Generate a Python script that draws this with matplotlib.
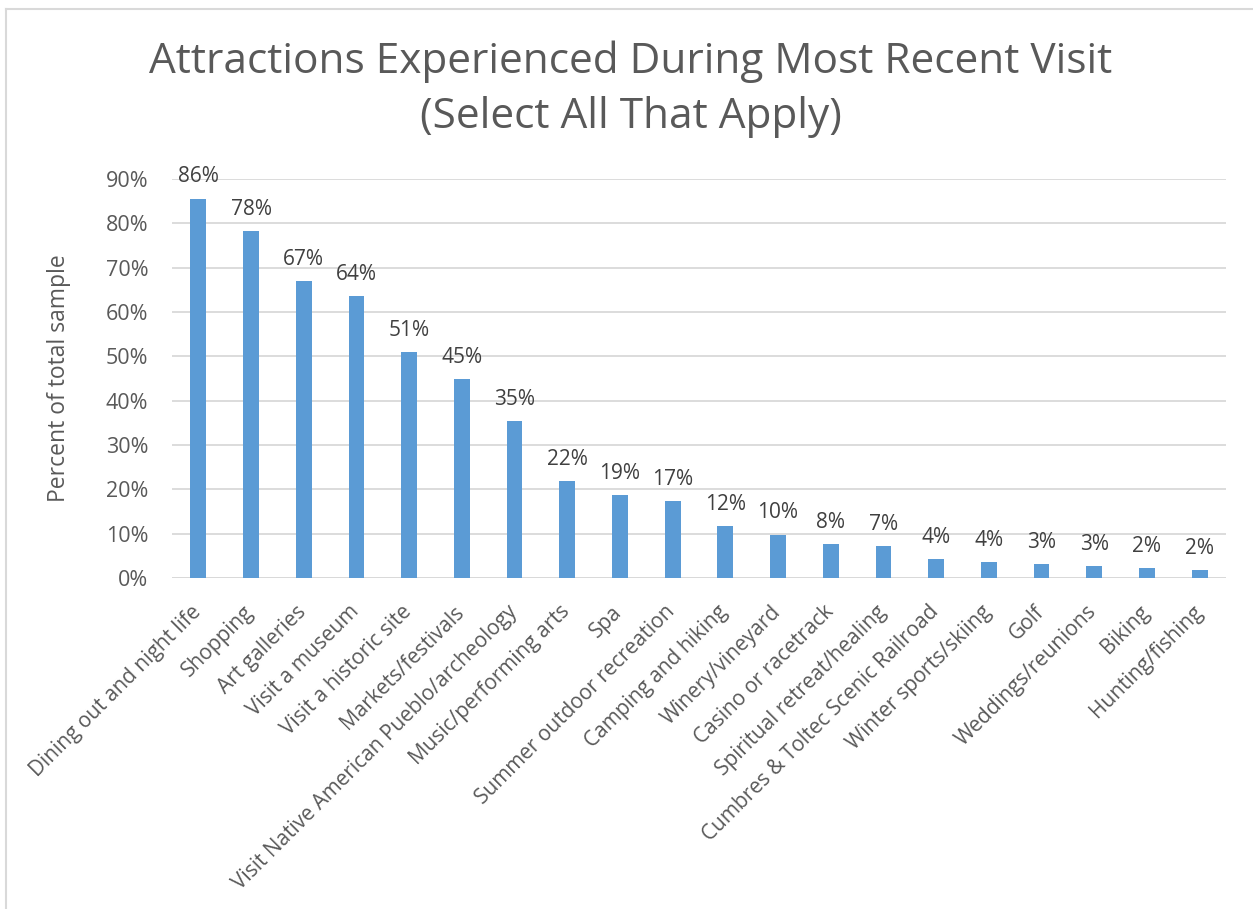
import matplotlib
matplotlib.use("Agg")
import matplotlib.pyplot as plt
import matplotlib.transforms as mtransforms
from matplotlib.lines import Line2D
from matplotlib.ticker import FuncFormatter

categories = [
    "Dining out and night life", "Shopping", "Art galleries", "Visit a museum",
    "Visit a historic site", "Markets/festivals",
    "Visit Native American Pueblo/archeology", "Music/performing arts", "Spa",
    "Summer outdoor recreation", "Camping and hiking", "Winery/vineyard",
    "Casino or racetrack", "Spiritual retreat/healing",
    "Cumbres & Toltec Scenic Railroad", "Winter sports/skiing", "Golf",
    "Weddings/reunions", "Biking", "Hunting/fishing",
]
values = [85.6, 78.2, 66.9, 63.6, 51.0, 44.9, 35.4, 21.9, 18.7, 17.3,
          11.8, 9.8, 7.7, 7.3, 4.2, 3.6, 3.1, 2.6, 2.2, 1.7]
y_ticks = [0, 10, 20, 30, 40, 50, 60, 70, 80, 90]

BAR = "#5B9BD5"
TEXT = "#595959"
GRID = "#D9D9D9"

plt.rcParams["font.family"] = ["Open Sans", "DejaVu Sans"]

W, H = 1253, 909
fig = plt.figure(figsize=(W / 100, H / 100), dpi=100)
ax = fig.add_axes([172 / W, 1 - 578 / H, (1226 - 172) / W, (578 - 179) / H])

x = list(range(len(categories)))
ax.bar(x, values, width=0.30, color=BAR, zorder=3)
for xi, v in zip(x, values):
    ax.annotate(f"{v:.0f}%", (xi, v), xytext=(0, 8), textcoords="offset points",
                ha="center", va="bottom", fontsize=15, color="#404040", zorder=4)

ax.set_xlim(-0.5, len(categories) - 0.5)
ax.set_ylim(0, 90)
ax.set_yticks(y_ticks)
ax.yaxis.set_major_formatter(FuncFormatter(lambda v, _: f"{v:.0f}%"))
ax.grid(axis="y", color=GRID, linewidth=1.3, zorder=0)
for s in ax.spines.values():
    s.set_visible(False)
ax.tick_params(axis="y", length=0, pad=17, labelsize=15.5, labelcolor=TEXT)
ax.tick_params(axis="x", length=0, pad=14, labelsize=15, labelcolor=TEXT)
ax.set_xticks(x)
ax.set_xticklabels(categories, rotation=45, ha="right", rotation_mode="anchor")

# nudge the slanted category labels slightly left and down
shift = mtransforms.ScaledTranslation(-8 / 100, -4 / 100, fig.dpi_scale_trans)
for lbl in ax.get_xticklabels():
    lbl.set_transform(lbl.get_transform() + shift)

ax.axhline(0, color=GRID, linewidth=1.3, zorder=2)

ax.set_ylabel("Percent of total sample", fontsize=16.5, color=TEXT, labelpad=25)

fig.text(631 / W, 1 - 89 / H,
         "Attractions Experienced During Most Recent Visit\n(Select All That Apply)",
         ha="center", va="center", fontsize=30.5, color=TEXT, linespacing=1.4)

# frame around the chart area (left and top edges)
fig.add_artist(Line2D([6 / W, 6 / W], [0, 1 - 9 / H], transform=fig.transFigure,
                      color=GRID, linewidth=1.5))
fig.add_artist(Line2D([6 / W, 1], [1 - 9 / H, 1 - 9 / H], transform=fig.transFigure,
                      color=GRID, linewidth=1.5))

fig.savefig("out.png", dpi=100, facecolor="white")
